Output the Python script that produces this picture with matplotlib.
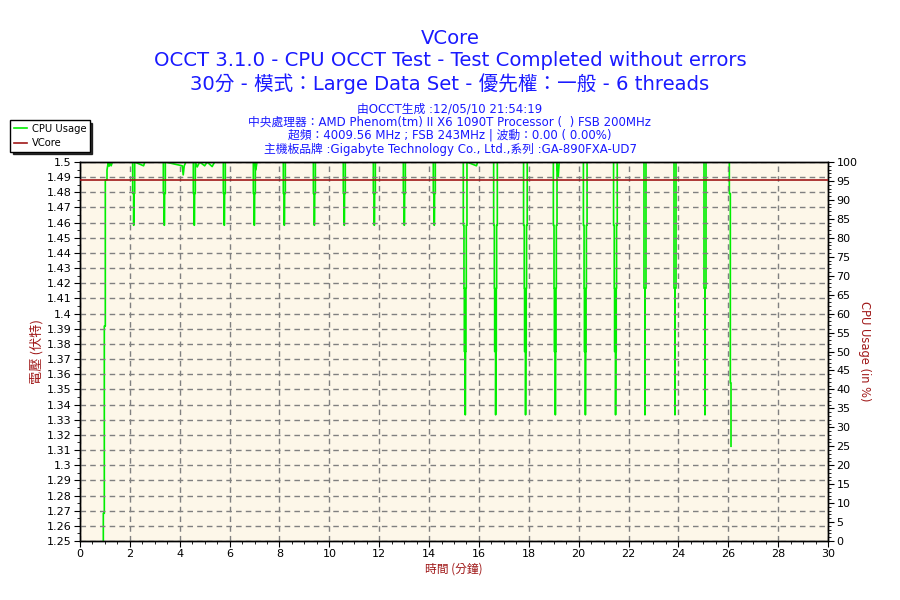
import matplotlib
matplotlib.use("Agg")
import matplotlib.pyplot as plt
from matplotlib.ticker import MultipleLocator, FuncFormatter
from matplotlib.lines import Line2D

plt.rcParams['font.family'] = ['DejaVu Sans', 'Noto Sans CJK TC']

# ---------------- data ----------------
title_lines = ["VCore",
               "OCCT 3.1.0 - CPU OCCT Test - Test Completed without errors",
               "30分 - 模式：Large Data Set - 優先權：一般 - 6 threads"]
info_lines = ["由OCCT生成 :12/05/10 21:54:19",
              "中央處理器：AMD Phenom(tm) II X6 1090T Processor (  ) FSB 200MHz",
              "超頻：4009.56 MHz ; FSB 243MHz | 波動：0.00 ( 0.00%)",
              "主機板品牌 :Gigabyte Technology Co., Ltd.,系列 :GA-890FXA-UD7"]

vcore_time = [0.0, 30.0]
vcore_volt = [1.488, 1.488]

cpu_time = [
    0.935, 0.935, 0.975, 0.975, 1.015, 1.015, 1.083, 1.083, 1.135, 1.17, 1.20, 1.25, 1.30,
    2.113, 2.113, 2.153, 2.153, 2.158, 2.193, 2.193, 2.55, 2.60, 2.65,
    3.342, 3.342, 3.382, 3.382, 3.387, 3.422, 3.422, 4.10, 4.14, 4.18, 4.25,
    4.545, 4.545, 4.585, 4.585, 4.590, 4.625, 4.625, 4.70, 4.80, 5.00, 5.10, 5.30, 5.40,
    5.748, 5.748, 5.788, 5.788, 5.793, 5.828, 5.828,
    6.952, 6.952, 6.992, 6.992, 6.997, 7.032, 7.032, 7.05, 7.10,
    8.155, 8.155, 8.195, 8.195, 8.200, 8.235, 8.235,
    9.360, 9.360, 9.400, 9.400, 9.405, 9.440, 9.440,
    10.560, 10.560, 10.600, 10.600, 10.605, 10.640, 10.640,
    11.765, 11.765, 11.805, 11.805, 11.810, 11.845, 11.845,
    12.968, 12.968, 13.008, 13.008, 13.013, 13.048, 13.048,
    14.170, 14.170, 14.210, 14.210, 14.215, 14.250, 14.250,
    15.373, 15.373, 15.400, 15.400, 15.413, 15.413, 15.453, 15.453, 15.458, 15.480, 15.480, 15.493, 15.493, 15.520, 15.520,
    15.90, 15.95, 16.00,
    16.590, 16.590, 16.617, 16.617, 16.630, 16.630, 16.670, 16.670, 16.675, 16.697, 16.697, 16.710, 16.710, 16.737, 16.737,
    17.790, 17.790, 17.817, 17.817, 17.830, 17.830, 17.870, 17.870, 17.875, 17.897, 17.897, 17.910, 17.910, 17.937, 17.937,
    18.985, 18.985, 19.012, 19.012, 19.025, 19.025, 19.065, 19.065, 19.070, 19.092, 19.092, 19.105, 19.105, 19.132, 19.132,
    19.18, 19.22, 19.26,
    20.190, 20.190, 20.217, 20.217, 20.230, 20.230, 20.270, 20.270, 20.275, 20.297, 20.297, 20.310, 20.310, 20.337, 20.337,
    21.400, 21.400, 21.427, 21.427, 21.440, 21.440, 21.480, 21.480, 21.485, 21.507, 21.507, 21.520, 21.520, 21.547, 21.547,
    22.620, 22.620, 22.660, 22.660, 22.665, 22.700, 22.700,
    23.824, 23.824, 23.864, 23.864, 23.869, 23.904, 23.904,
    25.027, 25.027, 25.067, 25.067, 25.072, 25.107, 25.107,
    26.043, 26.043, 26.083, 26.083, 26.110, 26.110,
]
cpu_usage = [
    0.0, 7.3, 7.3, 56.7, 56.7, 95.3, 95.3, 97.9, 100, 98.9, 100, 99.0, 100,
    100, 91.7, 91.7, 83.3, 91.7, 91.7, 100, 99.0, 100, 100,
    100, 91.7, 91.7, 83.3, 91.7, 91.7, 100, 99.0, 96.6, 99.0, 100,
    100, 91.7, 91.7, 83.3, 91.7, 91.7, 100, 98.7, 100, 99.0, 100, 98.8, 100,
    100, 91.7, 91.7, 83.3, 91.7, 91.7, 100,
    100, 91.7, 91.7, 83.3, 91.7, 91.7, 100, 97.9, 100,
    100, 91.7, 91.7, 83.3, 91.7, 91.7, 100,
    100, 91.7, 91.7, 83.3, 91.7, 91.7, 100,
    100, 91.7, 91.7, 83.3, 91.7, 91.7, 100,
    100, 91.7, 91.7, 83.3, 91.7, 91.7, 100,
    100, 91.7, 91.7, 83.3, 91.7, 91.7, 100,
    100, 91.7, 91.7, 83.3, 91.7, 91.7, 100,
    100, 83.3, 83.3, 66.7, 66.7, 50.0, 50.0, 33.3, 50.0, 50.0, 66.7, 66.7, 83.3, 83.3, 100,
    99.0, 100, 100,
    100, 83.3, 83.3, 66.7, 66.7, 50.0, 50.0, 33.3, 50.0, 50.0, 66.7, 66.7, 83.3, 83.3, 100,
    100, 83.3, 83.3, 66.7, 66.7, 50.0, 50.0, 33.3, 50.0, 50.0, 66.7, 66.7, 83.3, 83.3, 100,
    100, 83.3, 83.3, 66.7, 66.7, 50.0, 50.0, 33.3, 50.0, 50.0, 66.7, 66.7, 83.3, 83.3, 100,
    96.1, 100, 100,
    100, 83.3, 83.3, 66.7, 66.7, 50.0, 50.0, 33.3, 50.0, 50.0, 66.7, 66.7, 83.3, 83.3, 100,
    100, 83.3, 83.3, 66.7, 66.7, 50.0, 50.0, 33.3, 50.0, 50.0, 66.7, 66.7, 83.3, 83.3, 100,
    100, 66.7, 66.7, 33.3, 66.7, 66.7, 100,
    100, 66.7, 66.7, 33.3, 66.7, 66.7, 100,
    100, 66.7, 66.7, 33.3, 66.7, 66.7, 100,
    100, 91.7, 91.7, 41.7, 41.7, 25.0,
]

x_ticks = list(range(0, 31, 2))
volt_ticks = [1.25 + 0.01 * i for i in range(26)]
cpu_ticks = list(range(0, 101, 5))

# ---------------- style ----------------
blue = '#1a1aff'
dark_red = '#a01818'
green = '#00ee00'
grid_color = '#808080'
fam = ['DejaVu Sans', 'Noto Sans CJK TC']

fig = plt.figure(figsize=(9, 6), dpi=100, facecolor='white')
ax = fig.add_axes([80 / 900, 1 - 541 / 600, 748 / 900, 379 / 600])
ax2 = ax.twinx()

# titles
title_y = [38, 61, 84]
for txt, y in zip(title_lines, title_y):
    fig.text(0.5, 1 - y / 600, txt, ha='center', va='center', fontsize=14.1, color=blue, family=fam)
info_y = [109, 122, 135, 149]
for txt, y in zip(info_lines, info_y):
    fig.text(0.5, 1 - y / 600, txt, ha='center', va='center', fontsize=8.5, color=blue, family=fam)

# grid
for xv in x_ticks:
    ax.axvline(xv, color=grid_color, lw=1, ls=(0, (4, 3)), zorder=1)
for yv in volt_ticks:
    ax.axhline(yv, color=grid_color, lw=1, ls=(0, (4, 3)), zorder=1)

# lines
ax2.plot(cpu_time, cpu_usage, color=green, lw=1.2, zorder=2)
ax.plot(vcore_time, vcore_volt, color=dark_red, lw=1.2, zorder=3)
ax.set_zorder(ax2.get_zorder() + 1)
ax.set_facecolor('none')
ax2.patch.set_visible(True)
ax2.patch.set_facecolor('#fdf7e9')

ax.set_xlim(0, 30)
ax.set_ylim(1.25, 1.5)
ax2.set_ylim(0, 100)

ax.set_xticks(x_ticks)
ax.xaxis.set_minor_locator(MultipleLocator(0.5))
ax.set_yticks(volt_ticks)
ax.yaxis.set_minor_locator(MultipleLocator(0.005))
ax.yaxis.set_major_formatter(FuncFormatter(lambda v, p: ('%.2f' % v).rstrip('0').rstrip('.')))
ax2.set_yticks(cpu_ticks)
ax2.yaxis.set_minor_locator(MultipleLocator(1))

for a in (ax, ax2):
    a.tick_params(which='major', labelsize=8, length=4, width=0.8, direction='out', colors='black', pad=2)
    a.tick_params(which='minor', length=2, width=0.6, direction='out')
    for s in a.spines.values():
        s.set_color('black')
        s.set_linewidth(1)

ax.set_xlabel("時間 (分鐘)", color=dark_red, fontsize=8.5, labelpad=2,
              family=['Noto Sans CJK TC', 'DejaVu Sans'])
ax.set_ylabel("電壓 (伏特)", color=dark_red, fontsize=9.5, labelpad=2,
              family=['Noto Sans CJK TC', 'DejaVu Sans'])
ax2.set_ylabel("CPU Usage (in %)", color=dark_red, fontsize=8.3, rotation=270, labelpad=10)

handles = [Line2D([], [], color=green, lw=1.2), Line2D([], [], color=dark_red, lw=1.2)]
leg = fig.legend(handles, ["CPU Usage", "VCore"], loc='upper left',
                 bbox_to_anchor=(10 / 900, 1 - 120 / 600), fontsize=7.2, frameon=True,
                 fancybox=False, shadow={'color': 'black', 'alpha': 0.8}, borderpad=0.35,
                 handlelength=1.3, handletextpad=0.5, labelspacing=0.45, borderaxespad=0)
leg.get_frame().set_edgecolor('black')
leg.get_frame().set_linewidth(1)

fig.savefig("out.png", dpi=100, facecolor='white')
